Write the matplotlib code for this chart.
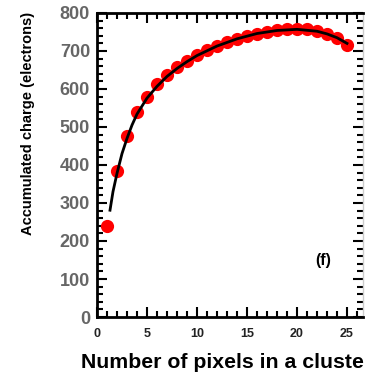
import matplotlib
matplotlib.use('Agg')
import matplotlib.pyplot as plt
from matplotlib.ticker import MultipleLocator

# measured cluster charge vs cluster size
n_pixels = [1, 2, 3, 4, 5, 6, 7, 8, 9, 10, 11, 12, 13, 14, 15, 16, 17, 18, 19, 20, 21, 22, 23, 24, 25]
charge = [240, 385, 477, 540, 580, 612, 636, 658, 674, 690, 702, 713, 723, 732, 740, 746, 751, 755, 757, 758,
          757, 752, 745, 734, 715]

# fitted curve
fit_x = [1.3, 1.6, 2, 2.5, 3, 3.5, 4, 5, 6, 7, 8, 9, 10, 12, 14, 16, 18, 20, 22, 23, 24, 25]
fit_y = [281, 330, 378, 430, 470, 505, 534, 576, 607, 633, 654, 672, 688, 713, 732, 746, 754, 757, 752, 745, 735, 720]

plt.rcParams['font.family'] = ['Liberation Sans', 'DejaVu Sans']
plt.rcParams['font.weight'] = 'bold'

fig = plt.figure(figsize=(3.65, 3.74), dpi=100)
ax = fig.add_axes([97 / 365, 1 - 317 / 374, 266 / 365, 304 / 374])

ax.plot(n_pixels, charge, 'o', color='#ff0000', markersize=9.5, markeredgewidth=0, zorder=2)
ax.plot(fit_x, fit_y, '-', color='black', linewidth=2, zorder=3)

ax.set_xlim(0, 26.6)
ax.set_ylim(0, 800)
ax.xaxis.set_major_locator(MultipleLocator(5))
ax.xaxis.set_minor_locator(MultipleLocator(1))
ax.yaxis.set_major_locator(MultipleLocator(100))
ax.yaxis.set_minor_locator(MultipleLocator(20))

for side in ['left', 'bottom', 'top']:
    ax.spines[side].set_linewidth(2)
ax.spines['right'].set_linewidth(1)
ax.spines['right'].set_color('#cccccc')

ax.tick_params(which='both', direction='in', top=True, right=True, width=1.5, color='black')
ax.tick_params(which='major', length=7)
ax.tick_params(which='minor', length=4)
ax.tick_params(axis='x', labelsize=9, pad=8, labelcolor='#222222')
ax.tick_params(axis='y', labelsize=13, pad=5, labelcolor='#666666')
for lab in ax.get_xticklabels() + ax.get_yticklabels():
    lab.set_fontweight('bold')

ax.text(22.6, 150, '(f)', fontsize=11.5, fontweight='bold', ha='center', va='center')

fig.text(227 / 365, 1 - 362 / 374, 'Number of pixels in a cluster', fontsize=15.3, fontweight='bold',
         ha='center', va='center')
fig.text(28 / 365, 1 - 123 / 374, 'Accumulated charge (electrons)', fontsize=10.5, fontweight='bold',
         ha='center', va='center', rotation=90)

fig.savefig('out.png', dpi=100)
